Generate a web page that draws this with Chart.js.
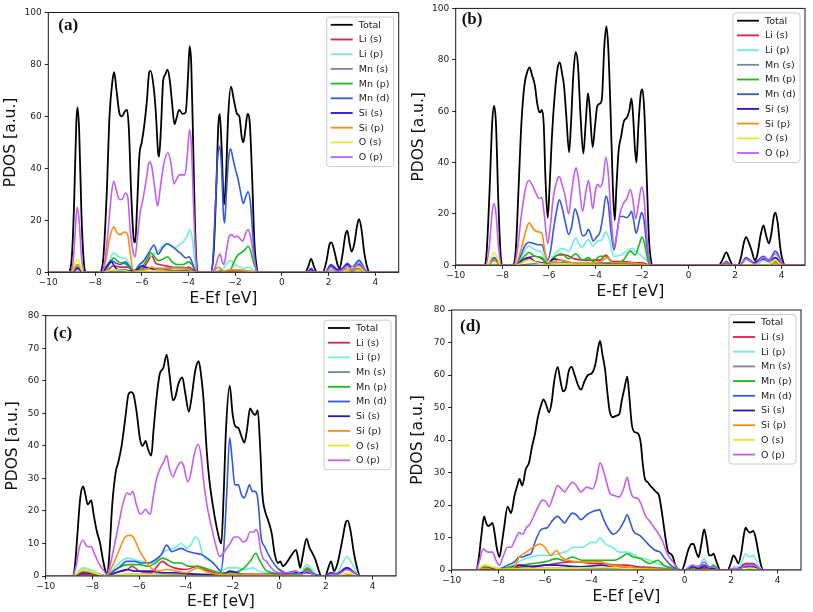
<!DOCTYPE html>
<html>
<head>
<meta charset="utf-8">
<script src="https://cdn.jsdelivr.net/npm/chart.js@4.4.1/dist/chart.umd.min.js"></script>
<style>
  html, body { margin: 0; padding: 0; background: #fff; }
  #wrap { position: relative; width: 813px; height: 612px; overflow: hidden; }
  canvas { position: absolute; }
</style>
</head>
<body>
<div id="wrap">
  <canvas id="pa" width="405" height="312" style="left:0;top:0"></canvas>
  <canvas id="pb" width="408" height="302" style="left:405px;top:0"></canvas>
  <canvas id="pc" width="405" height="312" style="left:0;top:300px"></canvas>
  <canvas id="pd" width="408" height="312" style="left:405px;top:300px"></canvas>
</div>
<script>
const seriesNames = ["Total", "Li (s)", "Li (p)", "Mn (s)", "Mn (p)", "Mn (d)", "Si (s)", "Si (p)", "O (s)", "O (p)"];
const panelLabels = ["(a)", "(b)", "(c)", "(d)"];
const xTicks = [-10, -8, -6, -4, -2, 0, 2, 4];
const yTicksAB = [0, 20, 40, 60, 80, 100];
const yTicksCD = [0, 10, 20, 30, 40, 50, 60, 70, 80];

// ---- panel (a): [E-Ef, PDOS]
const aTotal = [[-10,0],[-9.15,0],[-9.0,5],[-8.9,25],[-8.8,58],[-8.75,63.5],[-8.68,55],[-8.58,22],[-8.48,4],[-8.4,0],
  [-7.8,0],[-7.65,5],[-7.5,30],[-7.38,60],[-7.25,74],[-7.18,77],[-7.08,70],[-6.95,61],[-6.85,60],[-6.72,62],[-6.63,62.5],[-6.55,55],[-6.45,30],[-6.33,12],[-6.28,11.5],[-6.2,25],[-6.1,45],[-6.0,50],[-5.9,56],[-5.78,66],[-5.68,77],[-5.62,77.5],[-5.5,72],[-5.4,62],[-5.3,46],[-5.26,44.5],[-5.18,55],[-5.08,74],[-5.0,76],[-4.9,78],[-4.8,74],[-4.7,65],[-4.6,57],[-4.52,59],[-4.4,62.5],[-4.25,61],[-4.12,61.5],[-4.02,75],[-3.95,87],[-3.88,80],[-3.8,50],[-3.72,18],[-3.65,3],[-3.58,0],
  [-3.05,0],[-2.92,8],[-2.8,35],[-2.72,57],[-2.66,61],[-2.58,48],[-2.48,26],[-2.4,35],[-2.3,60],[-2.18,71.5],[-2.05,66],[-1.92,61],[-1.82,60],[-1.72,52],[-1.65,50],[-1.55,56],[-1.47,61],[-1.38,58],[-1.28,38],[-1.18,12],[-1.08,2],[-1.0,0],
  [1.0,0],[1.12,2],[1.25,5.2],[1.38,2],[1.5,0],
  [1.75,0],[1.9,4],[2.05,11],[2.12,11.5],[2.25,8],[2.38,3],[2.47,1.5],[2.58,6],[2.72,14.5],[2.8,16],[2.9,11],[2.98,8],[3.1,11],[3.22,18],[3.3,20.5],[3.4,17],[3.52,8],[3.65,2],[3.75,0],[5,0]];
const aLis = [[-10,0],[-7.6,0],[-7.2,2.5],[-6.9,2],[-6.6,2],[-6.35,0.3],[-6.0,1],[-5.75,4],[-5.58,6.5],[-5.4,3.5],[-5.25,3],[-5.0,2.5],[-4.7,2],[-4.5,1.5],[-4.2,1.5],[-4.0,2],[-3.8,1],[-3.6,0],
  [-2.8,0],[-2.2,0.5],[-1.5,0.5],[-1.1,0],[1.9,0],[2.1,1],[2.4,0.2],[2.8,1.5],[3.0,0.5],[3.3,2],[3.6,0],[5,0]];
const aLip = [[-10,0],[-9.0,0],[-8.75,1],[-8.5,0],[-7.7,0],[-7.45,3],[-7.2,7.5],[-7.0,6],[-6.8,5.5],[-6.65,5],[-6.45,2],[-6.3,1],[-6.1,3],[-5.9,4.5],[-5.7,6],[-5.5,7],[-5.3,8],[-5.0,11],[-4.8,10.5],[-4.6,9.5],[-4.4,10.5],[-4.2,12],[-4.05,14],[-3.95,16.5],[-3.85,14],[-3.75,6],[-3.62,0],
  [-3.0,0],[-2.7,1],[-2.5,1.5],[-2.3,4],[-2.2,4.5],[-2.0,3],[-1.8,2],[-1.6,1.5],[-1.45,2],[-1.25,1],[-1.05,0],
  [1.1,0],[1.25,0.5],[1.4,0],[1.85,0],[2.1,1],[2.4,0.3],[2.8,2],[3.0,1],[3.3,5],[3.6,0.5],[3.75,0],[5,0]];
const aMns = [[-10,0],[-7.6,0],[-7.2,0.5],[-6.5,0.3],[-5.6,1.5],[-5.0,1.5],[-4.5,2],[-4.0,1.5],[-3.7,0],[5,0]];
const aMnp = [[-10,0],[-9.0,0],[-8.75,3],[-8.5,0],[-7.7,0],[-7.45,2],[-7.2,5.5],[-7.0,4],[-6.8,3.5],[-6.65,3],[-6.45,1],[-6.3,0.5],[-6.0,2],[-5.8,4.5],[-5.6,7.5],[-5.45,6],[-5.3,4.5],[-5.1,5],[-4.9,6],[-4.7,4],[-4.5,3],[-4.2,3],[-4.0,4],[-3.85,3],[-3.7,0.5],[-3.6,0],
  [-2.9,0],[-2.5,0.3],[-2.2,1],[-2.05,4],[-1.9,6.5],[-1.75,7.5],[-1.6,8.5],[-1.45,10],[-1.35,8.5],[-1.22,4],[-1.1,1],[-1.0,0],
  [2.6,0],[2.8,1],[3.0,0.5],[3.3,1.5],[3.6,0],[5,0]];
const aMnd = [[-10,0],[-9.0,0],[-8.75,2],[-8.5,0],[-7.7,0],[-7.5,2],[-7.3,4.5],[-7.1,3.5],[-6.9,3],[-6.7,4],[-6.5,2],[-6.3,0.5],[-6.1,3],[-5.95,4],[-5.8,6],[-5.6,9],[-5.48,10.5],[-5.3,7],[-5.1,9.5],[-4.9,11],[-4.7,10],[-4.5,8.5],[-4.3,7],[-4.1,5.5],[-3.98,6],[-3.85,4],[-3.7,0.5],[-3.6,0],
  [-3.05,0],[-2.95,5],[-2.85,25],[-2.75,44],[-2.66,48.5],[-2.58,40],[-2.5,22],[-2.45,19],[-2.38,30],[-2.28,44],[-2.2,47.5],[-2.1,44],[-2.0,40],[-1.88,36],[-1.75,30],[-1.65,26.5],[-1.55,29],[-1.45,31],[-1.35,27],[-1.25,15],[-1.15,4],[-1.05,0],
  [1.1,0],[1.25,1.5],[1.4,0],[1.85,0],[2.1,3],[2.4,1],[2.6,1.5],[2.8,3.5],[3.0,2],[3.3,4.5],[3.6,0.5],[3.75,0],[5,0]];
const aSis = [[-10,0],[-9.0,0],[-8.75,1.5],[-8.5,0],[-7.7,0],[-7.45,3],[-7.3,4],[-7.15,2],[-7.0,1],[-6.8,1],[-6.5,0.5],[-6.2,1],[-6.0,2.5],[-5.85,2],[-5.6,1.5],[-5.3,1],[-5.0,1],[-4.5,0.5],[-3.9,0.5],[-3.6,0],
  [-2.8,0],[-2.6,0.5],[-2.2,0.3],[-1.2,0],[1.05,0],[1.25,1],[1.45,0],[1.85,0],[2.1,2.5],[2.4,0.8],[2.6,1.5],[2.8,3],[3.0,1.5],[3.3,3],[3.6,0.3],[3.75,0],[5,0]];
const aSip = [[-10,0],[-9.0,0],[-8.75,3],[-8.5,0],[-7.75,0],[-7.55,4],[-7.4,12],[-7.2,17.5],[-7.05,15],[-6.92,14.5],[-6.75,15.5],[-6.62,15],[-6.5,8],[-6.38,1],[-6.2,0.5],[-5.8,1],[-5.6,2],[-5.3,1],[-4.9,1.5],[-4.5,1.5],[-4.0,1],[-3.7,0],
  [-3.0,0],[-2.72,2],[-2.5,0.5],[-2.2,1],[-1.8,1],[-1.4,0.5],[-1.1,0],[2.6,0],[2.8,0.8],[3.3,1],[3.6,0],[5,0]];
const aOs = [[-10,0],[-9.05,0],[-8.75,5],[-8.5,0],[-7.7,0],[-7.2,1],[-6.8,0.8],[-6.4,0],[-5.5,0.5],[-4.5,0.3],[-3.6,0],[2.6,0],[2.8,1.2],[3.3,2],[3.6,0],[5,0]];
const aOp = [[-10,0],[-9.1,0],[-8.95,3],[-8.85,15],[-8.77,25],[-8.68,20],[-8.58,6],[-8.45,0],
  [-7.75,0],[-7.6,3],[-7.45,15],[-7.3,30],[-7.2,35],[-7.1,32],[-6.95,28],[-6.85,28],[-6.7,30.5],[-6.6,29],[-6.48,15],[-6.35,7],[-6.28,6],[-6.18,14],[-6.05,24],[-5.95,28],[-5.8,36],[-5.68,42.5],[-5.58,41],[-5.45,33],[-5.32,25.5],[-5.2,33],[-5.05,42],[-4.88,46],[-4.75,42],[-4.62,34],[-4.5,36],[-4.38,37.5],[-4.15,37.5],[-4.05,45],[-3.95,55],[-3.87,48],[-3.78,25],[-3.7,8],[-3.6,0],
  [-3.0,0],[-2.85,2],[-2.72,6],[-2.65,7],[-2.55,4],[-2.48,3],[-2.38,8],[-2.25,14],[-2.15,14.5],[-2.02,13.5],[-1.92,14],[-1.8,13],[-1.68,12],[-1.55,15],[-1.45,16.5],[-1.35,14],[-1.22,7],[-1.1,1],[-1.0,0],
  [1.1,0],[1.25,0.5],[1.4,0],[1.85,0],[2.1,2],[2.35,0.3],[2.6,1],[2.8,2.5],[3.0,1],[3.3,3.5],[3.6,0.5],[3.75,0],[5,0]];

// ---- panel (b)
const bTotal = [[-10,0],[-8.78,0],[-8.68,4],[-8.55,28],[-8.43,56],[-8.35,62],[-8.27,55],[-8.17,25],[-8.07,4],[-7.98,0],
  [-7.55,0],[-7.42,6],[-7.3,30],[-7.18,55],[-7.05,70],[-6.9,76],[-6.83,77],[-6.72,74],[-6.6,70],[-6.5,63],[-6.43,60],[-6.37,59.5],[-6.3,60.5],[-6.22,55],[-6.15,35],[-6.05,18.5],[-5.97,30],[-5.88,48],[-5.75,66],[-5.62,77],[-5.53,79],[-5.42,74],[-5.35,70],[-5.25,58],[-5.13,44],[-5.05,55],[-4.95,74],[-4.85,83],[-4.75,78],[-4.65,60],[-4.52,43.5],[-4.42,55],[-4.32,67],[-4.25,62],[-4.12,46],[-4.02,54],[-3.92,62],[-3.8,63],[-3.72,65],[-3.62,85],[-3.53,93],[-3.45,85],[-3.35,60],[-3.25,30],[-3.17,17.5],[-3.1,30],[-3.0,45],[-2.9,50],[-2.78,56],[-2.65,57.5],[-2.55,60],[-2.45,65],[-2.38,58],[-2.3,45],[-2.24,40],[-2.15,55],[-2.05,67],[-1.98,68.5],[-1.9,60],[-1.8,35],[-1.7,10],[-1.6,1],[-1.55,0],
  [1.3,0],[1.45,2],[1.62,5],[1.78,2],[1.9,0],
  [2.12,0],[2.25,3],[2.38,9],[2.47,11],[2.58,9],[2.7,6],[2.85,2],[2.95,4],[3.1,12],[3.22,15.5],[3.32,12],[3.45,8.5],[3.55,12],[3.66,19],[3.73,20.5],[3.82,17],[3.95,6],[4.07,1],[4.15,0],[5,0]];
const bLis = [[-10,0],[-7.4,0],[-7.0,2],[-6.85,3],[-6.6,3.5],[-6.3,2.5],[-6.05,0.5],[-5.6,4],[-5.3,4],[-4.9,2.5],[-4.3,2],[-3.8,2],[-3.55,4],[-3.3,1.5],[-2.8,1.5],[-2.3,1],[-2.0,1],[-1.65,0],[3.4,0],[3.73,1],[4.05,0],[5,0]];
const bLip = [[-10,0],[-8.6,0],[-8.35,0.5],[-8.1,0],[-7.45,0],[-7.2,3],[-6.85,7.5],[-6.6,6],[-6.3,5],[-6.05,1],[-5.85,3],[-5.7,5],[-5.4,6.5],[-5.15,5.5],[-4.85,10.5],[-4.6,7],[-4.3,10],[-4.1,7.5],[-3.9,9.5],[-3.72,10],[-3.55,13],[-3.4,10],[-3.22,3.5],[-2.9,4],[-2.6,6],[-2.4,6.5],[-2.25,5.5],[-2.0,3.5],[-1.8,2],[-1.6,0],
  [2.9,0],[3.22,2],[3.5,1],[3.73,3],[4.05,0],[5,0]];
const bMns = [[-10,0],[-7.3,0],[-6.8,0.5],[-5.5,1],[-4.5,1],[-3.5,1],[-2.5,0.8],[-1.7,0],[5,0]];
const bMnp = [[-10,0],[-8.65,0],[-8.35,2],[-8.05,0],[-7.45,0],[-7.1,3],[-6.85,5],[-6.6,3.5],[-6.3,3],[-6.05,0.5],[-5.8,3],[-5.45,4.5],[-5.15,2.5],[-4.85,4.5],[-4.55,2],[-4.3,3],[-4.1,1.5],[-3.8,3.5],[-3.55,3.5],[-3.2,0.5],[-2.8,2],[-2.5,5.5],[-2.3,4],[-2.12,8],[-2.0,11],[-1.88,8],[-1.75,2],[-1.6,0],
  [3.4,0],[3.73,1.5],[4.05,0],[5,0]];
const bMnd = [[-10,0],[-8.65,0],[-8.35,3],[-8.05,0],
  [-7.45,0],[-7.25,3],[-7.0,8],[-6.85,9],[-6.65,8.5],[-6.45,8],[-6.3,8],[-6.18,5],[-6.05,2],[-5.92,6],[-5.8,14],[-5.65,22],[-5.55,25.5],[-5.42,22],[-5.3,17],[-5.15,12],[-5.02,15],[-4.88,22],[-4.75,19],[-4.55,11.5],[-4.42,12],[-4.3,14],[-4.2,12],[-4.1,9.5],[-3.95,11],[-3.8,13],[-3.68,19],[-3.55,27],[-3.45,24],[-3.33,13],[-3.2,6],[-3.08,12],[-2.95,19],[-2.8,19],[-2.65,18.5],[-2.52,20],[-2.45,21],[-2.35,17],[-2.25,12.5],[-2.12,17],[-2.02,20.5],[-1.92,18],[-1.8,8],[-1.68,1.5],[-1.58,0],
  [1.4,0],[1.62,1.5],[1.85,0],[2.2,0],[2.47,3],[2.8,1],[3.22,3.5],[3.45,2],[3.73,5.5],[4.05,0.5],[4.15,0],[5,0]];
const bSis = [[-10,0],[-8.65,0],[-8.35,2],[-8.05,0],[-7.45,0],[-7.05,2.5],[-6.85,3],[-6.6,1.5],[-6.3,1],[-6.05,0.5],[-5.8,2.5],[-5.5,2],[-5.0,1],[-4.5,0.5],[-3.5,0.5],[-1.8,0.3],[-1.6,0],
  [1.4,0],[1.62,0.8],[1.85,0],[2.2,0],[2.47,2.5],[2.8,1],[3.22,2.5],[3.45,1.5],[3.73,3],[4.05,0],[5,0]];
const bSip = [[-10,0],[-8.65,0],[-8.35,2],[-8.05,0],[-7.45,0],[-7.2,6],[-7.0,13],[-6.85,16.5],[-6.65,14],[-6.45,13],[-6.3,12.5],[-6.18,6],[-6.05,1],[-5.5,2],[-5.0,1],[-4.5,1],[-3.75,1.5],[-3.5,3],[-3.3,1],[-2.8,1],[-2.0,0.5],[-1.6,0],
  [3.4,0],[3.73,1],[4.05,0],[5,0]];
const bOs = [[-10,0],[-8.65,0],[-8.35,5],[-8.05,0],[-7.45,0],[-6.85,2],[-6.5,1],[-6.0,0.3],[-5.5,0.5],[-3.5,0.3],[-1.6,0],[3.4,0],[3.73,2],[4.05,0],[5,0]];
const bOp = [[-10,0],[-8.7,0],[-8.55,8],[-8.43,21],[-8.35,24],[-8.27,20],[-8.15,6],[-8.02,0],
  [-7.5,0],[-7.35,6],[-7.2,18],[-7.0,30],[-6.85,33],[-6.7,31],[-6.55,28],[-6.42,26],[-6.3,26.5],[-6.2,20],[-6.05,8.5],[-5.95,14],[-5.8,27],[-5.65,33],[-5.55,34.5],[-5.42,31],[-5.3,27],[-5.15,20],[-5.03,28],[-4.9,36],[-4.83,38],[-4.72,33],[-4.55,21],[-4.42,28],[-4.3,33],[-4.22,29],[-4.12,22],[-3.98,30],[-3.9,31.5],[-3.8,30.5],[-3.68,33],[-3.55,42],[-3.45,36],[-3.32,18],[-3.2,7],[-3.1,11],[-2.95,20],[-2.8,24],[-2.65,26],[-2.5,29.5],[-2.4,26],[-2.27,18],[-2.15,24],[-2.02,30.5],[-1.92,27],[-1.8,12],[-1.68,2],[-1.58,0],
  [1.4,0],[1.62,1],[1.85,0],[2.2,0],[2.47,2.5],[2.85,0.5],[3.22,3],[3.45,1.5],[3.73,4.5],[4.05,0.5],[4.15,0],[5,0]];

// ---- panel (c)
const cTotal = [[-10,0],[-8.85,0],[-8.75,3],[-8.65,12],[-8.52,24],[-8.4,27.5],[-8.3,25],[-8.2,22],[-8.05,23.2],[-7.95,19],[-7.82,14],[-7.67,10],[-7.55,5],[-7.42,1],[-7.36,0.5],[-7.28,6],[-7.15,22],[-7.0,32],[-6.89,35],[-6.75,40],[-6.6,48],[-6.45,56],[-6.35,56.5],[-6.25,56],[-6.1,50],[-5.96,42],[-5.85,40],[-5.72,41.5],[-5.62,39],[-5.48,37],[-5.38,45],[-5.25,55],[-5.12,62],[-4.96,64],[-4.82,68],[-4.7,62],[-4.55,54],[-4.45,55],[-4.32,59],[-4.15,61],[-4.02,56],[-3.87,50.5],[-3.75,55],[-3.6,63],[-3.45,66],[-3.35,62],[-3.25,55],[-3.1,38],[-3.0,30],[-2.85,22],[-2.68,15],[-2.55,11],[-2.48,10],[-2.38,25],[-2.28,45],[-2.12,58.5],[-2.0,50],[-1.88,46],[-1.75,45.5],[-1.62,43],[-1.49,41],[-1.38,45],[-1.25,51.5],[-1.12,50],[-1.02,49.5],[-0.92,51],[-0.82,40],[-0.72,25],[-0.61,20],[-0.47,17],[-0.32,13],[-0.2,7],[-0.05,4],[0.05,4.5],[0.15,3],[0.25,3.5],[0.4,5],[0.58,7],[0.72,8],[0.82,5],[0.9,2.5],[1.0,6],[1.17,11.5],[1.28,9],[1.42,7],[1.55,5],[1.68,2],[1.8,0],
  [1.98,0],[2.1,2.5],[2.22,4.5],[2.35,1.5],[2.5,4],[2.7,11],[2.85,16.5],[2.93,17],[3.05,14],[3.2,7],[3.35,2],[3.45,0],[5,0]];
const cLis = [[-10,0],[-8.85,0],[-8.4,0.5],[-7.4,0],[-7.0,1],[-6.5,2],[-6.3,3],[-6.0,1.5],[-5.5,1],[-5.0,4.5],[-4.8,3.5],[-4.5,2.5],[-4.0,2],[-3.5,3],[-3.2,2],[-2.8,1],[-2.5,0.5],[-1.5,0.3],[0,0.2],[0.9,0.5],[1.2,2],[1.5,0.5],[1.8,0],
  [2.2,0],[2.5,0.5],[2.9,2.5],[3.45,0],[5,0]];
const cLip = [[-10,0],[-8.85,0],[-8.4,2.5],[-8.1,2],[-7.4,0],[-7.0,3],[-6.5,5.5],[-6.2,5],[-5.9,4.5],[-5.6,4],[-5.3,4.5],[-5.0,7],[-4.8,8],[-4.5,8.5],[-4.2,10],[-3.95,8.5],[-3.75,10],[-3.6,12],[-3.45,11],[-3.25,6],[-2.9,4.5],[-2.6,2],[-2.5,1.5],[-2.2,2.5],[-1.8,2.5],[-1.5,2],[-1.1,2.5],[-0.9,1.5],[-0.5,1],[0,0.5],[0.9,1],[1.2,3.5],[1.5,1],[1.8,0],
  [2.0,0],[2.2,1],[2.45,1],[2.75,4.5],[2.9,6],[3.1,4],[3.45,0],[5,0]];
const cMns = [[-10,0],[-7.4,0],[-6.5,0.5],[-4.5,0.5],[-2,0.5],[0,0.3],[1.8,0],[5,0]];
const cMnp = [[-10,0],[-8.85,0],[-8.4,1],[-7.4,0],[-7.0,2],[-6.5,3.5],[-6.0,3.5],[-5.6,3],[-5.3,4],[-5.0,5.5],[-4.8,5],[-4.5,4],[-4.2,4],[-3.9,3],[-3.5,3],[-3.0,2],[-2.5,1],[-2.0,1],[-1.5,2.5],[-1.2,5],[-1.0,7],[-0.85,5],[-0.6,2],[-0.3,1],[0,0.5],[0.9,0.5],[1.2,2.5],[1.5,0.5],[1.8,0],
  [2.2,0],[2.9,2],[3.45,0],[5,0]];
const cMnd = [[-10,0],[-8.85,0],[-8.4,1],[-8.0,1],[-7.4,0],[-7.1,1.5],[-6.8,3],[-6.55,4.5],[-6.2,4.5],[-5.9,4],[-5.6,4],[-5.3,5],[-5.05,6.5],[-4.82,9.5],[-4.6,7.5],[-4.4,8],[-4.2,8.5],[-3.9,7.5],[-3.6,7],[-3.3,6.5],[-3.0,5],[-2.7,3],[-2.5,1.5],[-2.38,8],[-2.25,25],[-2.12,42.5],[-2.02,36],[-1.9,28],[-1.75,28],[-1.62,25],[-1.5,24],[-1.38,26],[-1.28,28],[-1.15,26],[-1.05,26],[-0.95,25],[-0.88,21],[-0.78,12],[-0.62,9],[-0.42,6],[-0.2,3.5],[0.0,2],[0.3,1],[0.7,1.5],[0.95,0.5],[1.2,1.5],[1.5,0.5],[1.8,0],
  [2.0,0],[2.2,1],[2.45,0.5],[2.9,2.5],[3.2,1],[3.45,0],[5,0]];
const cSis = [[-10,0],[-8.85,0],[-8.4,1],[-8.0,0.8],[-7.4,0],[-7.0,1],[-6.5,2],[-6.2,1.5],[-5.5,1.5],[-5.0,1],[-4.5,1],[-3.5,0.5],[-2.5,0.3],[-2.1,1.5],[-1.5,0.5],[0,0.5],[0.7,1],[1.2,1],[1.8,0],
  [2.0,0],[2.2,1],[2.45,0.5],[2.9,2.5],[3.45,0],[5,0]];
const cSip = [[-10,0],[-8.85,0],[-8.4,1.5],[-7.4,0],[-7.15,3],[-6.85,8],[-6.6,12],[-6.4,12.5],[-6.25,12],[-6.0,8],[-5.75,5],[-5.5,2.5],[-5.2,1.5],[-4.8,2],[-4.4,1.5],[-4.0,1],[-3.5,2.5],[-3.0,1],[-2.5,0.5],[-1.0,0.5],[0,0.3],[1.8,0],[2.6,0],[3.0,0.5],[3.45,0],[5,0]];
const cOs = [[-10,0],[-8.85,0],[-8.4,2],[-8.1,1.5],[-7.4,0],[-6.5,0.5],[-5,0.3],[-3,0],[2.5,0],[2.9,1],[3.45,0],[5,0]];
const cOp = [[-10,0],[-8.85,0],[-8.7,3],[-8.55,9],[-8.4,11],[-8.28,9.5],[-8.2,9],[-8.05,9],[-7.92,7],[-7.8,5],[-7.65,3],[-7.5,1.5],[-7.38,0.5],[-7.25,3],[-7.1,8],[-6.9,15],[-6.7,22],[-6.52,25.5],[-6.38,25],[-6.28,26],[-6.12,22],[-5.95,19],[-5.85,19.5],[-5.72,20.5],[-5.62,19.5],[-5.52,19],[-5.4,24],[-5.25,30],[-5.1,33],[-4.95,35],[-4.82,37],[-4.7,33],[-4.55,30.5],[-4.4,33],[-4.2,35],[-4.1,34],[-3.92,29],[-3.8,31],[-3.65,37],[-3.47,40.5],[-3.35,37],[-3.25,30],[-3.1,22],[-2.9,15],[-2.7,9],[-2.55,6],[-2.45,6.5],[-2.3,8],[-2.1,10],[-1.92,12],[-1.75,12],[-1.55,10.5],[-1.4,11],[-1.25,13.5],[-1.1,13.5],[-1.0,14.2],[-0.9,13],[-0.8,8],[-0.7,5.5],[-0.55,4.5],[-0.4,3],[-0.2,1.5],[0.0,1],[0.3,1],[0.5,1],[0.72,1.5],[0.95,0.5],[1.2,1.5],[1.45,0.5],[1.8,0],
  [2.0,0],[2.2,0.5],[2.5,0.5],[2.9,2],[3.2,1],[3.45,0],[5,0]];

// ---- panel (d)
const dTotal = [[-10,0],[-8.95,0],[-8.85,3],[-8.72,11],[-8.61,16.5],[-8.52,14.5],[-8.43,13.5],[-8.33,14],[-8.25,14.5],[-8.15,11],[-8.07,7],[-7.95,4],[-7.85,8],[-7.75,13],[-7.6,19.5],[-7.45,17.5],[-7.3,23],[-7.18,26],[-7.09,28],[-6.97,26],[-6.82,31],[-6.68,33],[-6.55,38],[-6.42,42],[-6.3,47],[-6.15,51],[-6.06,52.5],[-5.95,51],[-5.82,48.5],[-5.7,52],[-5.6,58],[-5.45,62.5],[-5.35,59],[-5.22,55],[-5.1,56],[-4.98,61],[-4.85,62.5],[-4.72,60],[-4.58,57],[-4.45,55.5],[-4.3,58],[-4.15,60],[-3.99,60.5],[-3.84,63],[-3.72,68],[-3.63,70.5],[-3.52,66],[-3.42,62],[-3.32,55],[-3.22,49],[-3.08,47],[-2.92,47.5],[-2.8,48],[-2.7,52],[-2.58,56],[-2.46,59.5],[-2.38,54],[-2.27,45],[-2.16,42.5],[-2.0,42],[-1.88,39],[-1.8,33],[-1.7,28],[-1.58,27],[-1.48,26],[-1.35,25],[-1.22,24],[-1.1,23],[-1.0,19],[-0.9,14],[-0.8,9],[-0.7,5.5],[-0.6,5],[-0.5,4],[-0.4,1.5],[-0.27,0],
  [-0.12,0],[0.0,2],[0.15,6],[0.3,8],[0.38,8],[0.5,5.5],[0.6,4],[0.72,8],[0.84,12.5],[0.95,9],[1.05,4.5],[1.15,4.5],[1.24,5],[1.35,3],[1.45,1],[1.52,0],
  [1.85,0],[1.98,2],[2.1,4.5],[2.2,3.5],[2.31,2],[2.45,6],[2.55,11],[2.62,13],[2.72,12],[2.81,11.5],[2.95,12],[3.05,10],[3.18,5],[3.28,1.5],[3.38,0],[5,0]];
const dLis = [[-10,0],[-8.95,0],[-8.6,0.5],[-8.0,0.2],[-7.0,1],[-6.0,1.5],[-5.5,2],[-5.0,2.5],[-4.5,2.5],[-4.0,2],[-3.5,2],[-3.0,1.5],[-2.5,1.5],[-2.0,1],[-1.5,0.8],[-1.0,0.5],[-0.5,0.3],[0,0],[0.84,0.5],[1.52,0],[2.2,0],[2.62,2],[2.95,2],[3.3,0],[5,0]];
const dLip = [[-10,0],[-8.95,0],[-8.6,1.5],[-8.0,0.5],[-7.5,1],[-7.0,3],[-6.6,4],[-6.2,4.5],[-5.8,4.5],[-5.4,5],[-5.0,6],[-4.8,7],[-4.4,7],[-4.0,8.5],[-3.8,8.5],[-3.63,10],[-3.4,8],[-3.1,7],[-2.8,5.5],[-2.46,5.5],[-2.0,4],[-1.5,3],[-1.0,1.5],[-0.5,0.5],[0,0],[0.33,1.5],[0.6,1],[0.84,3.5],[1.05,1],[1.24,1],[1.52,0],
  [1.9,0],[2.14,1],[2.35,0.8],[2.62,5],[2.78,4],[2.95,4.5],[3.2,1],[3.35,0],[5,0]];
const dMns = [[-10,0],[-7.5,0],[-7,0.5],[-4,0.5],[-1,0.5],[0,0],[5,0]];
const dMnp = [[-10,0],[-8.95,0],[-8.6,1],[-8.0,0.3],[-7.5,1],[-7.0,1.5],[-6.5,2],[-6.0,2.5],[-5.5,3.5],[-5.2,3],[-4.82,4],[-4.4,3],[-4.0,3],[-3.5,3],[-3.0,3],[-2.7,4],[-2.46,5],[-2.2,4],[-1.9,3.5],[-1.5,2],[-1.15,3],[-0.9,1.5],[-0.5,0.5],[0,0],[0.84,1.5],[1.05,0.5],[1.24,1.5],[1.52,0],[2.2,0],[2.62,1],[2.95,1],[3.38,0],[5,0]];
const dMnd = [[-10,0],[-8.95,0],[-8.6,0.5],[-8.0,0.3],[-7.6,1.5],[-7.3,2.5],[-7.1,4],[-6.95,4],[-6.8,4.5],[-6.6,5],[-6.4,9],[-6.15,12.5],[-5.9,13],[-5.7,15],[-5.45,16.5],[-5.3,15.5],[-5.15,14.5],[-5.0,16],[-4.82,17.5],[-4.65,17],[-4.45,15.5],[-4.2,17],[-3.95,18],[-3.65,18.5],[-3.5,16],[-3.3,13],[-3.06,11],[-2.8,12.5],[-2.6,15],[-2.46,17],[-2.35,15],[-2.2,12],[-1.9,10.5],[-1.7,9],[-1.5,7.5],[-1.25,6],[-1.05,5.5],[-0.85,3.5],[-0.6,1.5],[-0.4,0.5],[-0.2,0],
  [0,0],[0.33,1],[0.6,0.5],[0.84,1.5],[1.24,0.5],[1.52,0],[2.0,0],[2.62,1],[2.95,1],[3.38,0],[5,0]];
const dSis = [[-10,0],[-8.95,0],[-8.6,0.5],[-7.6,0.3],[-7.1,1.5],[-6.5,1],[-6.0,1.5],[-5.5,1.5],[-5.0,1.2],[-4.5,1],[-4.0,1.2],[-3.6,1.5],[-3.0,0.8],[-2.0,0.5],[-1.0,0.2],[0,0],[0.33,1],[0.6,0.5],[0.84,1],[1.52,0],[2.2,0],[2.62,1.5],[2.95,1.5],[3.3,0],[5,0]];
const dSip = [[-10,0],[-8.95,0],[-8.6,0.5],[-8.0,0],[-7.5,0.5],[-7.3,1],[-7.1,4],[-6.8,5.5],[-6.5,7],[-6.2,8],[-6.0,7],[-5.75,4.5],[-5.5,6],[-5.3,4],[-5.0,3],[-4.5,2.5],[-4.0,2.5],[-3.6,2.5],[-3.2,1.5],[-2.5,1],[-2.0,0.5],[-1.0,0.3],[0,0],[5,0]];
const dOs = [[-10,0],[-8.95,0],[-8.6,1.5],[-8.3,1],[-7.9,0.3],[-7.5,0.3],[-5.0,0.5],[-3.5,0.8],[-2.0,0.3],[-0.5,0],[2.5,0],[2.8,0.5],[3.3,0],[5,0]];
const dOp = [[-10,0],[-8.95,0],[-8.8,3],[-8.65,6.5],[-8.55,6],[-8.43,5.5],[-8.25,5.5],[-8.1,3],[-7.95,1.5],[-7.8,4],[-7.6,7],[-7.45,7],[-7.3,9],[-7.1,11.5],[-6.95,11],[-6.8,13],[-6.65,14],[-6.45,17],[-6.25,20],[-6.1,21.5],[-5.95,21],[-5.82,19.5],[-5.65,22.5],[-5.45,26],[-5.3,25],[-5.15,24],[-5.0,25.5],[-4.82,27],[-4.65,26],[-4.45,24],[-4.2,25.5],[-3.95,25],[-3.78,28],[-3.63,33],[-3.5,31],[-3.35,27],[-3.2,23.5],[-3.05,23],[-2.8,22.5],[-2.62,25],[-2.46,28.5],[-2.35,25],[-2.22,22.5],[-2.0,22],[-1.85,20],[-1.7,17],[-1.5,15],[-1.35,13.5],[-1.2,12],[-0.95,9],[-0.8,6],[-0.7,4.5],[-0.55,3],[-0.4,1.5],[-0.2,0],
  [0.0,0],[0.33,1.5],[0.6,1],[0.84,2.5],[1.05,0.8],[1.24,1],[1.52,0],
  [1.85,0],[2.14,0.5],[2.35,0.3],[2.62,1.5],[2.95,1.5],[3.38,0],[5,0]];

const panelSeries = [
  [aTotal, aLis, aLip, aMns, aMnp, aMnd, aSis, aSip, aOs, aOp],
  [bTotal, bLis, bLip, bMns, bMnp, bMnd, bSis, bSip, bOs, bOp],
  [cTotal, cLis, cLip, cMns, cMnp, cMnd, cSis, cSip, cOs, cOp],
  [dTotal, dLis, dLip, dMns, dMnp, dMnd, dSis, dSip, dOs, dOp]
];

const colors = ["#000000", "#e8194b", "#6ff0da", "#778899", "#12bf12", "#3457dc", "#2a12c9", "#ff8c10", "#e2ee1c", "#c45df2"];

// layout of each panel: canvas size and plot area box (pixels)
const panels = [
  { id: "pa", w: 405, h: 312, l: 48.3, r: 398.7, t: 12.5, b: 272.3, yMax: 100, yTicks: yTicksAB, yPad: 1.2, xPad: 3.7, lab: [10, 13.5] },
  { id: "pb", w: 408, h: 302, l: 50.7, r: 400,   t: 6,    b: 265.3, yMax: 100, yTicks: yTicksAB, yPad: 4.7, xPad: 0.7, lab: [6, 11.5] },
  { id: "pc", w: 405, h: 312, l: 45.7, r: 396,   t: 15.7, b: 276,   yMax: 80,  yTicks: yTicksCD, yPad: 3.7, xPad: 1.0, lab: [7.6, 17.6] },
  { id: "pd", w: 408, h: 312, l: 46.7, r: 396,   t: 10,   b: 270,   yMax: 80,  yTicks: yTicksCD, yPad: 4.0, xPad: 6.0, lab: [8.3, 16.7] }
];

const FONT = "'DejaVu Sans', sans-serif";
const fmt = v => (v < 0 ? "\u2212" + Math.abs(v) : String(v));

// frame, inner legend and panel letter
const decor = {
  id: "decor",
  afterDatasetsDraw(chart, args, opts) {
    const { ctx, chartArea: a } = chart;
    ctx.save();
    ctx.strokeStyle = "#1a1a1a";
    ctx.lineWidth = 1;
    ctx.strokeRect(a.left, a.top, a.right - a.left, a.bottom - a.top);

    ctx.font = "bold 17px 'Liberation Serif', serif";
    ctx.fillStyle = "#111";
    ctx.textBaseline = "middle";
    ctx.textAlign = "left";
    ctx.fillText(opts.label, a.left + opts.lab[0], a.top + opts.lab[1]);

    const bw = 67, bh = 149.5;
    const bx = a.right - 5 - bw, by = a.top + 4.5;
    ctx.beginPath();
    ctx.roundRect(bx, by, bw, bh, 3);
    ctx.fillStyle = "rgba(255,255,255,0.85)";
    ctx.fill();
    ctx.strokeStyle = "#cccccc";
    ctx.stroke();
    ctx.font = "9.5px " + FONT;
    chart.data.datasets.forEach((ds, i) => {
      const cy = by + 7.8 + i * 14.7;
      ctx.beginPath();
      ctx.moveTo(bx + 4, cy);
      ctx.lineTo(bx + 26, cy);
      ctx.strokeStyle = ds.borderColor;
      ctx.lineWidth = 1.8;
      ctx.stroke();
      ctx.fillStyle = "#1a1a1a";
      ctx.fillText(ds.label, bx + 32, cy + 0.5);
    });
    ctx.restore();
  }
};

panels.forEach((p, k) => {
  const datasets = panelSeries[k].map((pts, i) => ({
    label: seriesNames[i],
    data: pts.map(([x, y]) => ({ x, y })),
    borderColor: colors[i],
    backgroundColor: colors[i],
    borderWidth: i === 0 ? 1.8 : 1.6,
    pointRadius: 0,
    fill: false,
    cubicInterpolationMode: "monotone",
    clip: 0,
    order: 10 - i
  }));
  new Chart(document.getElementById(p.id), {
    type: "line",
    data: { datasets },
    plugins: [decor],
    options: {
      responsive: false,
      animation: false,
      devicePixelRatio: 1,
      layout: { padding: { left: 0, top: p.t, right: p.w - p.r, bottom: 0 } },
      plugins: {
        legend: { display: false },
        tooltip: { enabled: false },
        decor: { label: panelLabels[k], lab: p.lab }
      },
      scales: {
        x: {
          type: "linear",
          min: -10,
          max: 5,
          afterBuildTicks: s => { s.ticks = xTicks.map(v => ({ value: v })); },
          afterFit: s => { s.height = p.h - p.b; },
          ticks: { autoSkip: false, maxRotation: 0, padding: 1.5, color: "#222", font: { family: FONT, size: 9 }, callback: fmt },
          grid: { drawOnChartArea: false, drawTicks: true, tickLength: 3.5, color: "#222", lineWidth: 1 },
          border: { display: false },
          title: { display: true, text: "E-Ef [eV]", color: "#111", font: { family: FONT, size: 15.5 }, padding: { top: 0, bottom: p.xPad } }
        },
        y: {
          min: 0,
          max: p.yMax,
          afterBuildTicks: s => { s.ticks = p.yTicks.map(v => ({ value: v })); },
          afterFit: s => { s.width = p.l; },
          ticks: { padding: 3, color: "#222", font: { family: FONT, size: 9 }, callback: fmt },
          grid: { drawOnChartArea: false, drawTicks: true, tickLength: 3.5, color: "#222", lineWidth: 1 },
          border: { display: false },
          title: { display: true, text: "PDOS [a.u.]", color: "#111", font: { family: FONT, size: 15.5 }, padding: { top: p.yPad, bottom: 0 } }
        }
      }
    }
  });
});
</script>
</body>
</html>
